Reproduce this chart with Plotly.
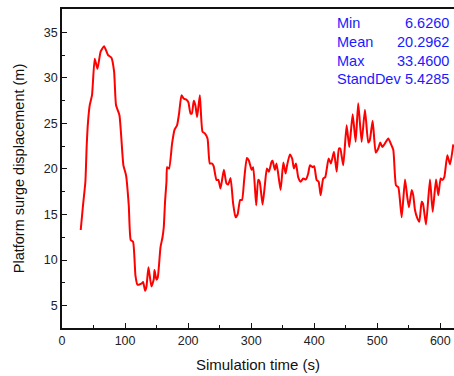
import plotly.graph_objects as go

time_s = [29.7, 33.3, 37.1, 39.2, 41.3, 44.0, 47.6, 51.9, 56.2, 61.4, 66.7, 73.0, 78.4, 82.6, 85.7,
          91.1, 97.4, 101.6, 105.9, 109.0, 112.7, 116.5, 119.7, 126.0, 128.6, 131.8, 134.0, 137.1,
          141.9, 145.6, 146.7, 149.8, 151.9, 156.2, 159.4, 161.4, 163.5, 165.7, 166.7, 169.8, 174.6,
          178.4, 182.5, 185.7, 189.5, 193.2, 197.5, 200.5, 203.8, 206.0, 209.0, 211.5, 214.3, 218.6,
          222.8, 226.5, 230.8, 234.4, 238.0, 240.5, 245.0, 248.0, 251.4, 256.7, 260.9, 263.5, 267.3,
          271.4, 275.2, 278.5, 282.5, 285.5, 288.9, 293.2, 296.5, 300.6, 303.2, 308.0, 311.1, 313.5,
          318.1, 321.7, 324.9, 328.1, 332.4, 334.0, 337.6, 340.3, 346.7, 351.0, 354.6, 357.0, 361.4,
          365.0, 367.8, 371.0, 374.6, 378.4, 382.6, 386.8, 390.5, 393.2, 397.4, 400.0, 403.8, 407.0,
          410.2, 414.3, 417.5, 422.8, 426.5, 431.3, 435.6, 439.2, 441.3, 446.0, 451.4, 455.6, 461.0,
          465.7, 469.8, 475.2, 480.5, 485.7, 488.0, 492.7, 497.5, 501.6, 504.8, 508.0, 512.2, 517.5,
          521.0, 525.4, 529.7, 533.4, 538.7, 544.0, 547.6, 550.3, 554.6, 557.1, 559.8, 563.5, 566.7,
          570.4, 572.5, 577.3, 583.6, 587.9, 593.2, 596.8, 600.6, 603.5, 606.3, 611.1, 615.4, 620.6]
surge_m = [13.3, 16.0, 18.6, 22.6, 25.2, 27.0, 28.1, 32.1, 31.0, 32.9, 33.46, 32.5, 32.2, 30.7, 27.0,
           25.9, 20.4, 19.3, 16.0, 12.2, 12.0, 8.3, 7.3, 7.4, 7.6, 6.63, 7.1, 9.2,
           7.1, 7.9, 8.9, 7.85, 8.1, 11.4, 12.5, 13.6, 16.5, 18.6, 20.2, 20.05, 22.8,
           24.3, 24.8, 26.1, 28.1, 27.7, 27.6, 27.3, 26.1, 26.1, 27.5, 27.0, 25.7, 28.1,
           24.1, 23.9, 23.35, 20.6, 20.6, 20.3, 18.8, 18.8, 17.85, 19.9, 18.4, 18.3, 19.0,
           16.2, 14.7, 15.0, 16.6, 16.6, 18.8, 21.2, 20.9, 19.9, 20.2, 16.0, 18.8, 18.6,
           16.1, 18.2, 20.05, 19.7, 20.8, 20.9, 19.9, 20.6, 17.7, 20.7, 19.5, 20.4, 21.6,
           21.15, 20.05, 20.6, 19.1, 18.6, 18.95, 18.85, 19.5, 20.4, 20.2, 20.3, 18.8, 18.6,
           17.1, 18.95, 19.1, 21.15, 20.6, 21.9, 19.7, 22.25, 22.25, 20.4, 24.8, 22.4, 26.0,
           23.0, 27.2, 23.0, 26.5, 22.9, 23.1, 25.3, 21.8, 22.25, 22.9, 22.4, 22.8, 23.35,
           22.85, 22.1, 18.2, 18.0, 14.7, 18.85, 16.9, 15.8, 17.7, 17.1, 15.5, 14.6, 14.2,
           16.4, 16.2, 13.9, 18.85, 15.3, 18.85, 17.1, 18.95, 18.8, 19.1, 21.5, 20.5, 22.7]

stat_names = ["Min", "Mean", "Max", "StandDev"]
stat_values = ["6.6260", "20.2962", "33.4600", "5.4285"]
stat_rows_y = [35.99, 33.9, 31.88, 29.84]

FONT = "Arial, 'Liberation Sans', sans-serif"

fig = go.Figure()
fig.add_trace(go.Scatter(x=time_s, y=surge_m, mode="lines",
                         line=dict(color="#ff0000", width=2, shape="spline", smoothing=0.5),
                         showlegend=False, hoverinfo="skip"))

for name, val, yy in zip(stat_names, stat_values, stat_rows_y):
    fig.add_annotation(x=432.9, y=yy, xref="x", yref="y", text=name, showarrow=False,
                       xanchor="left", yanchor="middle",
                       font=dict(family=FONT, size=14.5, color="#1a1aff"))
    fig.add_annotation(x=617.0, y=yy, xref="x", yref="y", text=val, showarrow=False,
                       xanchor="right", yanchor="middle",
                       font=dict(family=FONT, size=14.5, color="#1a1aff"))

axis_common = dict(showgrid=False, zeroline=False, showline=True, linecolor="#111",
                   linewidth=1.5, ticks="inside", ticklen=5, tickwidth=1.2, tickcolor="#111",
                   tickfont=dict(family=FONT, size=12.5, color="#222"))

fig.update_xaxes(range=[0, 621.7], tick0=0, dtick=100, mirror=True,
                 minor=dict(ticks="inside", dtick=50, ticklen=3, tickwidth=1.2, tickcolor="#111"),
                 title=dict(text="Simulation time (s)", font=dict(family=FONT, size=15, color="#111"),
                            standoff=13),
                 **axis_common)
fig.update_yaxes(range=[2.54, 37.56], tick0=0, dtick=5,
                 minor=dict(ticks="inside", dtick=2.5, ticklen=3, tickwidth=1.2, tickcolor="#111"),
                 title=dict(text="Platform surge displacement (m)",
                            font=dict(family=FONT, size=14.5, color="#111"), standoff=16),
                 **axis_common)

fig.update_layout(width=454, height=376, margin=dict(l=62, r=0, t=9, b=48),
                  paper_bgcolor="white", plot_bgcolor="white")

fig.write_html("out.html")
